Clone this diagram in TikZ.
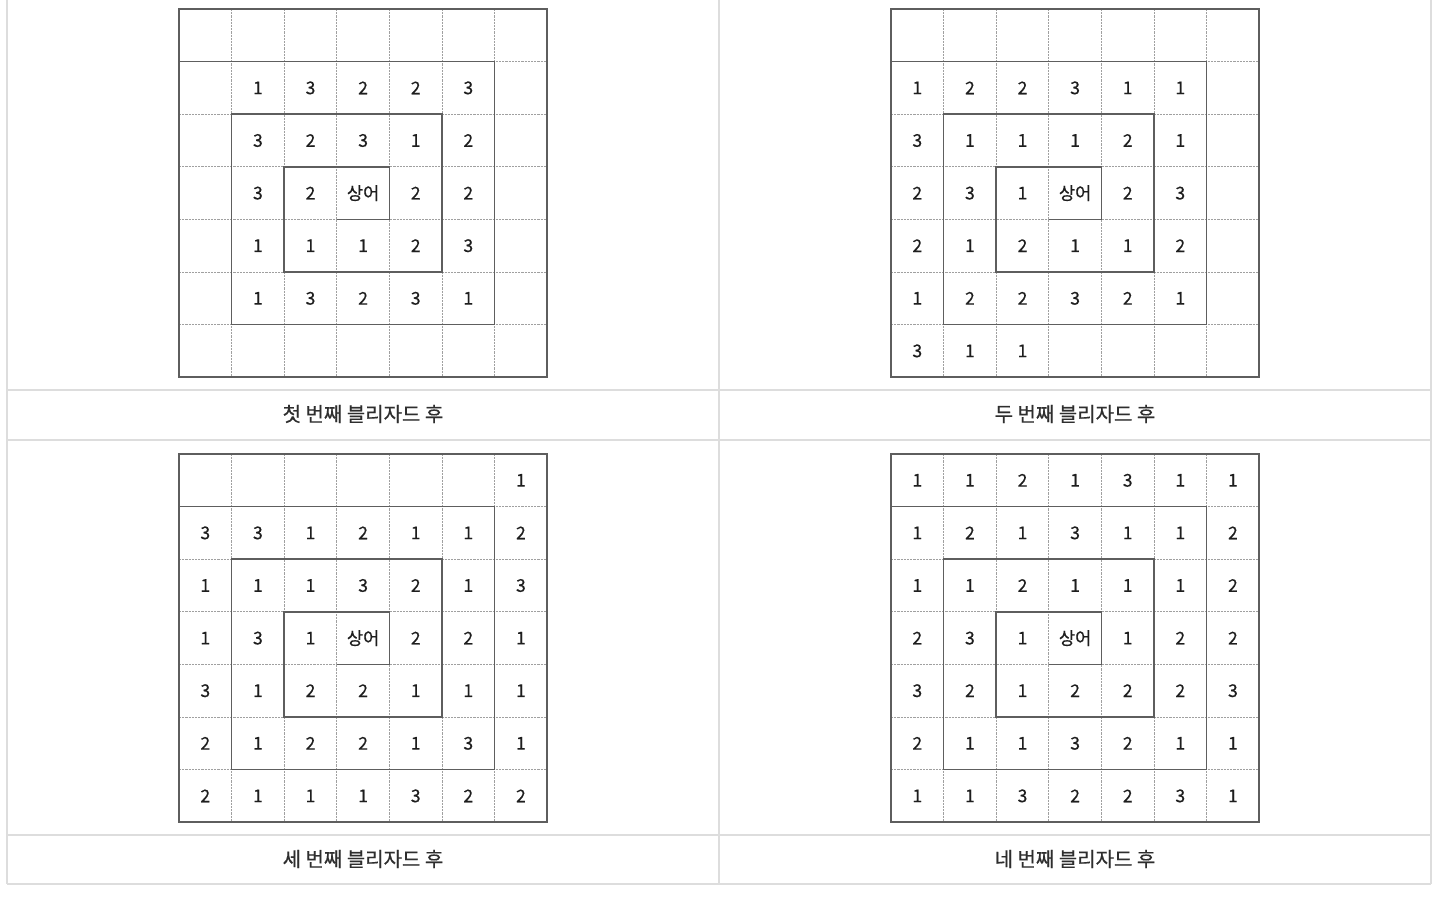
\documentclass[tikz,border=0pt]{standalone}
\usepackage{fontspec}
\newfontfamily\kr[FakeBold=0.5]{Noto Sans CJK KR}
\definecolor{tableline}{HTML}{DDDDDD}
\definecolor{gridframe}{HTML}{5E5E5E}
\definecolor{griddash}{HTML}{A0A0A0}
\definecolor{numtext}{HTML}{1E1E1E}
\definecolor{captext}{HTML}{2E2E2E}
\def\cs{52.6}
\def\emptymark{x}
\tikzset{
  tablerule/.style={draw=tableline, line width=0.9pt},
  tablerulethick/.style={draw=tableline, line width=1.8pt},
  gridline/.style={draw=griddash, line width=0.7pt, dash pattern=on 1.6pt off 0.8pt},
  gridframe/.style={draw=gridframe, line width=1.1pt},
  cellnum/.style={font=\kr\fontsize{13.2}{15}\selectfont, text=numtext, inner sep=0pt},
  caption/.style={font=\kr\fontsize{15}{17}\selectfont, text=captext, inner sep=0pt}
}
\newcommand{\gridpic}[4]{%
  \begin{scope}[shift={(#1,#2)}]
    \foreach \k in {1,...,6} {
      \draw[gridline] (\k*\cs,0) -- (\k*\cs,7*\cs);
      \draw[gridline] (0,\k*\cs) -- (7*\cs,\k*\cs);
    }
    \draw[gridframe] (0,0) rectangle (7*\cs,7*\cs);
    \draw[gridframe] (3*\cs,4*\cs) -- (4*\cs,4*\cs) -- (4*\cs,3*\cs) -- (2*\cs,3*\cs)
      -- (2*\cs,5*\cs) -- (5*\cs,5*\cs) -- (5*\cs,2*\cs) -- (1*\cs,2*\cs)
      -- (1*\cs,6*\cs) -- (6*\cs,6*\cs) -- (6*\cs,1*\cs) -- (0,1*\cs);
    \foreach \row [count=\r from 0] in {#4} {
      \foreach \v [count=\c from 0] in \row {
        \edef\tmpv{\v}%
        \ifx\tmpv\emptymark\else
          \node[cellnum] (#3-\r-\c) at (\c*\cs+\cs/2, \r*\cs+\cs/2) {\v};
        \fi
      }
    }
  \end{scope}
}
\begin{document}
\begin{tikzpicture}[x=0.75pt, y=-0.75pt]
  \fill[white] (0,0) rectangle (1440,906);
  \useasboundingbox (0,0) rectangle (1440,906);
  % table rules
  \draw[tablerule] (7,0) -- (7,884);
  \draw[tablerule] (719,0) -- (719,884);
  \draw[tablerule] (1431,0) -- (1431,884);
  \draw[tablerule] (7,390) -- (1431,390);
  \draw[tablerulethick] (7,440) -- (1431,440);
  \draw[tablerule] (7,835) -- (1431,835);
  \draw[tablerule] (7,884) -- (1431,884);
  % grids
  \gridpic{179}{9}{ga}{{x,x,x,x,x,x,x},{x,1,3,2,2,3,x},{x,3,2,3,1,2,x},{x,3,2,상어,2,2,x},{x,1,1,1,2,3,x},{x,1,3,2,3,1,x},{x,x,x,x,x,x,x}}
  \gridpic{891}{9}{gb}{{x,x,x,x,x,x,x},{1,2,2,3,1,1,x},{3,1,1,1,2,1,x},{2,3,1,상어,2,3,x},{2,1,2,1,1,2,x},{1,2,2,3,2,1,x},{3,1,1,x,x,x,x}}
  \gridpic{179}{454}{gc}{{x,x,x,x,x,x,1},{3,3,1,2,1,1,2},{1,1,1,3,2,1,3},{1,3,1,상어,2,2,1},{3,1,2,2,1,1,1},{2,1,2,2,1,3,1},{2,1,1,1,3,2,2}}
  \gridpic{891}{454}{gd}{{1,1,2,1,3,1,1},{1,2,1,3,1,1,2},{1,1,2,1,1,1,2},{2,3,1,상어,1,2,2},{3,2,1,2,2,2,3},{2,1,1,3,2,1,1},{1,1,3,2,2,3,1}}
  % captions
  \node[caption] (cap1) at (363,414) {첫 번째 블리자드 후};
  \node[caption] (cap2) at (1075,414) {두 번째 블리자드 후};
  \node[caption] (cap3) at (363,859) {세 번째 블리자드 후};
  \node[caption] (cap4) at (1075,859) {네 번째 블리자드 후};
\end{tikzpicture}
\end{document}
